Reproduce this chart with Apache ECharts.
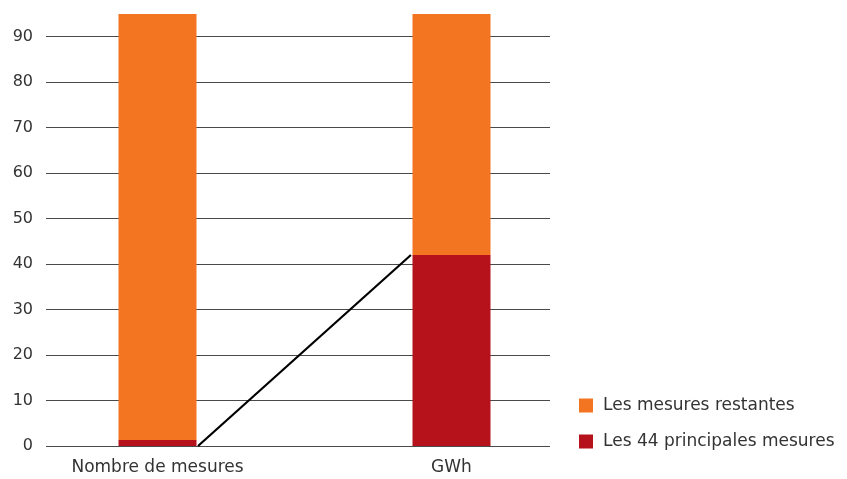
<!DOCTYPE html>
<html><head><meta charset="utf-8">
<script src="https://cdn.jsdelivr.net/npm/echarts@6/dist/echarts.min.js"></script>
<style>html,body{margin:0;padding:0;background:#fff}#c{width:847px;height:479px}</style>
</head><body><div id="c"></div>
<script>
var categories = ["Nombre de mesures", "GWh"];
var principales = [1.3, 42];
var restantes = [93.7, 53];
var connector = [[0.138, 0], [0.862, 42]];
var seriesNames = ["Les 44 principales mesures", "Les mesures restantes"];

var chart = echarts.init(document.getElementById('c'));
var font = 'DejaVu Sans';
var yScale = {type: 'value', min: 0, max: 95, interval: 10};
chart.setOption({
  animation: false,
  grid: [
    {left: 46, right: 297, top: 14, bottom: 33},
    {left: 10.5, right: 248.5, top: 14, bottom: 33}
  ],
  legend: {
    data: [seriesNames[1], seriesNames[0]],
    orient: 'vertical', left: 579, top: 397, padding: 0,
    itemWidth: 14, itemHeight: 14, itemGap: 19,
    icon: 'rect',
    textStyle: {fontFamily: font, fontSize: 17, color: '#333', padding: [0, 0, 0, 5]}
  },
  xAxis: [
    {type: 'value', gridIndex: 0, min: -0.379, max: 1.335, show: false},
    {type: 'category', gridIndex: 1, data: categories,
     axisLine: {show: false}, axisTick: {show: false},
     axisLabel: {margin: 13, fontFamily: font, fontSize: 17, color: '#333'}}
  ],
  yAxis: [
    Object.assign({gridIndex: 0,
      axisLine: {show: false}, axisTick: {show: false},
      axisLabel: {showMaxLabel: false, margin: 13, fontFamily: font, fontSize: 16, color: '#333'},
      splitLine: {show: true, showMaxLine: false, lineStyle: {color: '#4a4a4a', width: 1}}}, yScale),
    Object.assign({gridIndex: 1, show: false, splitLine: {show: false}}, yScale)
  ],
  series: [
    {name: seriesNames[0], type: 'bar', stack: 's', barWidth: 78,
     xAxisIndex: 1, yAxisIndex: 1,
     itemStyle: {color: '#B5121B'}, data: principales},
    {name: seriesNames[1], type: 'bar', stack: 's', barWidth: 78,
     xAxisIndex: 1, yAxisIndex: 1,
     itemStyle: {color: '#F47521'}, data: restantes},
    {name: 'connector', type: 'line', xAxisIndex: 0, yAxisIndex: 0,
     data: connector, showSymbol: false, symbol: 'none',
     lineStyle: {color: '#000', width: 2.2}, z: 5}
  ]
});
</script></body></html>
